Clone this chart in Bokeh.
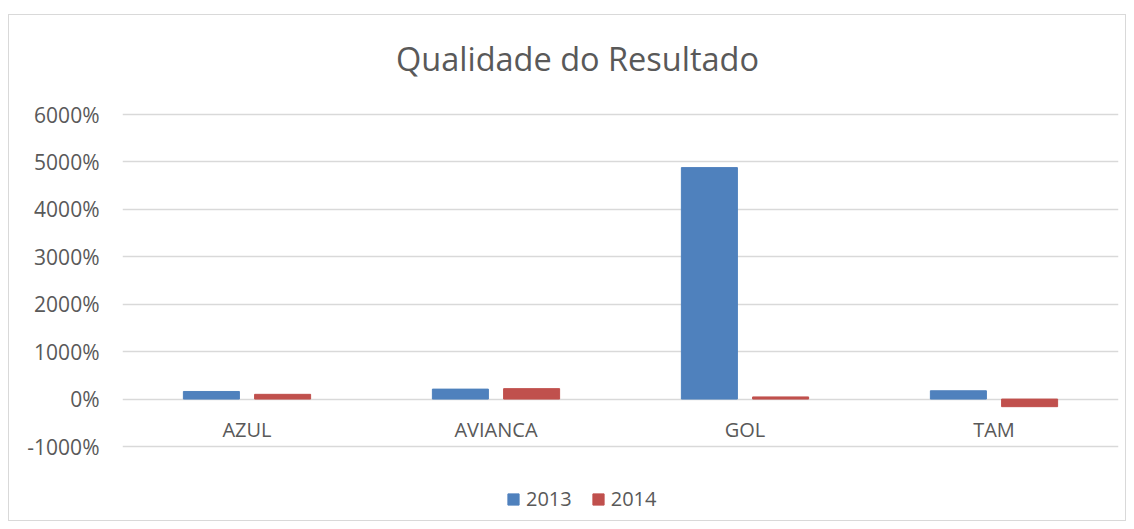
from bokeh.plotting import figure
from bokeh.models import (FactorRange, Range1d, FixedTicker, PrintfTickFormatter,
                          Legend, LegendItem, Label, ColumnDataSource)
from bokeh.transform import dodge
from bokeh.core.properties import value
from bokeh.embed import file_html
from bokeh.resources import INLINE

# ---- data ----
categories = ["AZUL", "AVIANCA", "GOL", "TAM"]
series_2013 = [160, 210, 4880, 175]
series_2014 = [100, 220, 45, -160]
series_names = ["2013", "2014"]
y_ticks = [-1000, 0, 1000, 2000, 3000, 4000, 5000, 6000]
title_text = "Qualidade do Resultado"

FONT = "Open Sans"
TEXT = "#595959"
BLUE = "#4F81BD"
RED = "#C0504D"
GRID = "#d9d9d9"

# layout (pixels): value axis spans 332 px; the plot frame also holds
# 98 px of room above it (title) and 68 px below it (legend)
AXIS_PX = 332
TOP_PX = 98
EXTRA_PX = 68
span = y_ticks[-1] - y_ticks[0]
y_lo = y_ticks[0] - span * EXTRA_PX / AXIS_PX
y_hi = y_ticks[-1] + span * TOP_PX / AXIS_PX

src = ColumnDataSource(dict(cat=categories, v13=series_2013, v14=series_2014,
                            zero=[0] * len(categories)))

p = figure(x_range=FactorRange(*categories, range_padding=0),
           y_range=Range1d(y_lo, y_hi),
           width=1118, height=507, output_backend="svg", toolbar_location=None,
           min_border_left=113, min_border_right=9, min_border_top=1,
           min_border_bottom=8)
p.margin = (14, 0, 0, 8)
p.styles = {"border": "1px solid #d9d9d9"}
p.outline_line_color = None
p.background_fill_color = "white"
p.border_fill_color = "white"

r13 = p.vbar(x=dodge("cat", -0.143, range=p.x_range), top="v13", width=0.225,
             source=src, fill_color=BLUE, line_color=BLUE)
r14 = p.vbar(x=dodge("cat", 0.143, range=p.x_range), top="v14", width=0.225,
             source=src, fill_color=RED, line_color=RED)

# axes
p.xaxis.visible = False
p.xgrid.visible = False
ticker = FixedTicker(ticks=y_ticks)
p.yaxis.ticker = ticker
p.ygrid.ticker = ticker
p.ygrid.grid_line_color = GRID
p.ygrid.grid_line_width = 1.5
p.yaxis.formatter = PrintfTickFormatter(format="%d%%")
p.yaxis.axis_line_color = None
p.yaxis.major_tick_line_color = None
p.yaxis.minor_tick_line_color = None
p.yaxis.major_tick_in = 0
p.yaxis.major_tick_out = 0
p.yaxis.major_label_standoff = 23
p.yaxis.major_label_text_font = FONT
p.yaxis.major_label_text_font_size = "21px"
p.yaxis.major_label_text_color = TEXT

# category labels sitting at the zero line (Excel style)
p.text(x="cat", y="zero", text="cat", source=src, text_align="center",
       text_baseline="alphabetic", y_offset=30, text_font=value(FONT),
       text_font_size="20px", text_color=TEXT)

# title (screen units from the frame's bottom-left corner)
p.add_layout(Label(x=455, y=456, x_units="screen", y_units="screen", text=title_text,
                   text_align="center", text_baseline="alphabetic",
                   text_font=FONT, text_font_size="32.5px", text_color=TEXT))

legend = Legend(items=[LegendItem(label=series_names[0], renderers=[r13]),
                       LegendItem(label=series_names[1], renderers=[r14])],
                orientation="horizontal", location=(384, 2), padding=0, margin=0,
                glyph_width=14, glyph_height=14, label_standoff=6, spacing=19,
                label_text_font=FONT, label_text_font_size="20px",
                label_text_color=TEXT, border_line_color=None,
                background_fill_alpha=0)
p.add_layout(legend, "center")

open("out.html", "w").write(file_html(p, INLINE))
